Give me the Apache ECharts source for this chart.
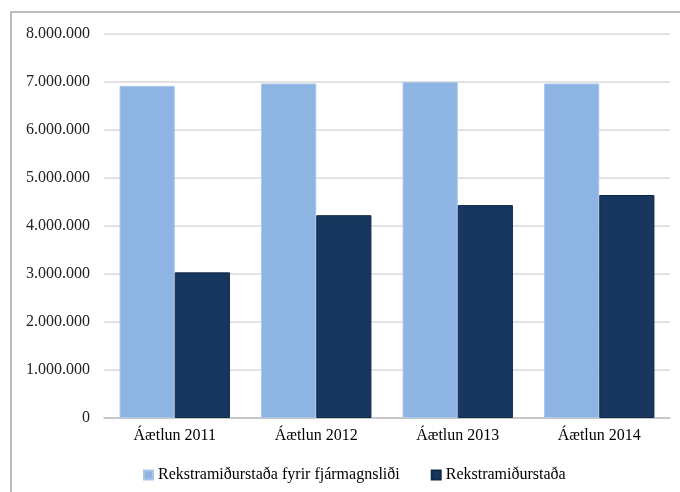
<!DOCTYPE html>
<html>
<head>
<meta charset="utf-8">
<script src="https://cdn.jsdelivr.net/npm/echarts@6/dist/echarts.min.js"></script>
<style>html,body{margin:0;padding:0;background:#fff;}#c{width:680px;height:492px;}</style>
</head>
<body>
<div id="c"></div>
<script>
const categories = ['Áætlun 2011', 'Áætlun 2012', 'Áætlun 2013', 'Áætlun 2014'];
const seriesNames = ['Rekstramiðurstaða fyrir fjármagnsliði', 'Rekstramiðurstaða'];
const beforeFinance = [6910000, 6960000, 6990000, 6960000];
const result = [3030000, 4220000, 4430000, 4640000];
const yMin = 0, yMax = 8000000, yStep = 1000000;

function fmt(v) {
  return String(Math.round(v)).replace(/\B(?=(\d{3})+(?!\d))/g, '.');
}

const chart = echarts.init(document.getElementById('c'), null, {renderer: 'canvas'});
const font = 'Liberation Serif';
chart.setOption({
  animation: false,
  backgroundColor: '#fff',
  graphic: [{
    type: 'rect', silent: true, z: -1,
    shape: {x: 11, y: 12, width: 720, height: 520},
    style: {fill: null, stroke: '#a6a6a6', lineWidth: 1.5}
  }],
  grid: {left: 104, right: 10, top: 33.5, bottom: 74, containLabel: false},
  legend: {
    left: 138, top: 462,
    itemWidth: 9, itemHeight: 9, itemGap: 31,
    icon: 'rect',
    textStyle: {fontFamily: font, fontSize: 16, color: '#000'},
    data: seriesNames
  },
  xAxis: {
    type: 'category', data: categories,
    axisLine: {lineStyle: {color: '#bfbfbf', width: 1.5}},
    axisTick: {show: false},
    axisLabel: {fontFamily: font, fontSize: 16, color: '#000', margin: 10}
  },
  yAxis: {
    type: 'value', min: yMin, max: yMax, interval: yStep,
    axisLine: {show: false}, axisTick: {show: false},
    splitLine: {lineStyle: {color: '#d9d9d9', width: 1.5}},
    axisLabel: {fontFamily: font, fontSize: 16, color: '#222', margin: 14, formatter: fmt}
  },
  series: [{
    name: seriesNames[0], type: 'bar', data: beforeFinance,
    barGap: '0%', barCategoryGap: '22%',
    itemStyle: {color: '#8EB4E3', borderColor: '#a9c6ea', borderWidth: 1}
  }, {
    name: seriesNames[1], type: 'bar', data: result,
    barGap: '0%', barCategoryGap: '22%',
    itemStyle: {color: '#17375E', borderColor: '#102a4a', borderWidth: 1}
  }]
});
</script>
</body>
</html>
